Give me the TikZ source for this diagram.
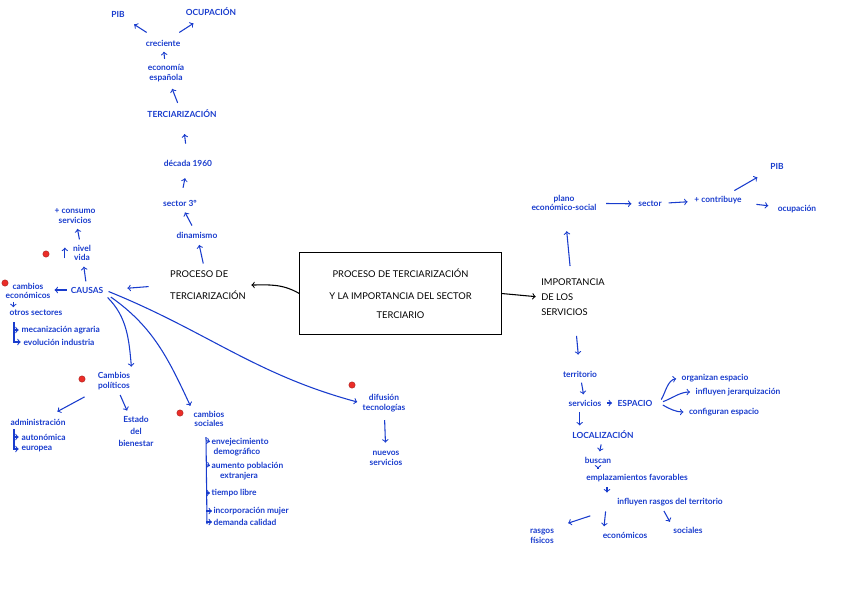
\documentclass[tikz,border=0pt]{standalone}
\usepackage{fontspec}
\setmainfont{Lato}
\definecolor{penblue}{RGB}{25,60,205}
\definecolor{penred}{RGB}{235,45,40}

\begin{document}
\begin{tikzpicture}[x=0.75pt,y=-0.75pt,
 bt/.style={text=penblue,font=\fontsize{6.3}{7.3}\selectfont\bfseries,align=center,inner sep=1pt},
 bk/.style={text=black,font=\fontsize{7}{8}\selectfont,align=left,inner sep=1pt},
 ar/.style={->,draw=penblue,line width=0.8pt,shorten >=#1,shorten <=#1},
 ar/.default=3pt,
 ln/.style={draw=penblue,line width=0.8pt},
 mk/.style={circle,fill=penred,draw=penred!70!black,line width=0.3pt,inner sep=1.7pt}]
\useasboundingbox (0,0) rectangle (848,600);
% tarjeta central
\node[draw,line width=0.8pt,minimum width=151pt,minimum height=62pt,align=center,font=\fontsize{7}{8}\selectfont] (box) at (400.5,293.5)
 {PROCESO DE TERCIARIZACIÓN\\[9pt]Y LA IMPORTANCIA DEL SECTOR\\[6pt]TERCIARIO\hspace{28pt}};
% columna superior
\node[bt] (pib) at (118,14) {PIB}; \node[bt] (ocu) at (211,12) {OCUPACIÓN};
\node[bt] (crec) at (163,43) {creciente};
\node[bt] (econ) at (166,73) {economía\\española};
\node[bt] (terc) at (182,114) {TERCIARIZACIÓN};
\node[bt] (dec) at (188,163) {década 1960};
\node[bt] (sec) at (180,203) {sector 3º};
\node[bt] (din) at (197,235) {dinamismo};
\node[bk] (proc) at (208,285) {PROCESO DE\\[9pt]TERCIARIZACIÓN};
\draw[ar=8pt] (crec) -- (pib); \draw[ar=8pt] (crec) -- (ocu); \draw[ar] (econ) -- (crec);
\draw[ar=4.5pt] (terc) -- (econ); \draw[ar=11pt] (dec) -- (terc); \draw[ar=8pt] (sec) -- (dec);
\draw[ar=4pt] (din) -- (sec); \draw[ar=4pt] (proc) -- (din);
\draw[->,line width=0.8pt,shorten >=3pt] (box.west) to[out=150,in=0] (proc.east);
% causas
\node[bt] (cons) at (75,216) {+ consumo\\servicios};
\node[bt] (niv) at (82,253) {nivel\\vida}; \node[mk] (m1) at (46,254) {};
\draw[->,ln] ([xshift=-5pt,yshift=-4pt]niv.west) -- ([xshift=-5pt,yshift=4pt]niv.west);
\node[bt] (caus) at (87,290) {CAUSAS};
\draw[ar] (niv) -- (cons); \draw[ar] (caus) -- (niv);
\draw[ar,shorten >=17pt,shorten <=15pt] (proc.west) -- (caus.east);
\node[bt] (ceco) at (28,291) {cambios\\económicos}; \node[mk] (m2) at (5,283) {};
\node[bt] (otros) at (36,313) {otros sectores};
\draw[ar=2pt] (caus.west) -- (caus.west -| ceco.east);
\draw[ar=1pt] ([xshift=-11pt]ceco.south) -- ([xshift=-11pt]ceco.south |- otros.north);
\coordinate (br1) at (14,322);
\node[bt,anchor=west] (meca) at (20,330) {mecanización agraria};
\node[bt,anchor=west] (evol) at (22,342) {evolución industria};
\draw[ar,shorten <=0pt,shorten >=1pt] (br1) |- (meca); \draw[ar,shorten <=0pt,shorten >=1pt] (br1) |- (evol);
% cambios politicos
\node[bt] (cpol) at (114,381) {Cambios\\políticos}; \node[mk] (m3) at (82,379) {};
\node[bt] (adm) at (38,422) {administración};
\node[bt,anchor=west] (auto) at (20,437) {autonómica};
\node[bt,anchor=west] (euro) at (20,449) {europea};
\coordinate (br2) at (14,429);
\draw[ar,shorten <=0pt,shorten >=1pt] (br2) |- (auto); \draw[ar,shorten <=0pt,shorten >=1pt] (br2) |- (euro);
\node[bt,font=\fontsize{6.3}{9}\selectfont\bfseries] (est) at (136,431) {Estado\\del\\bienestar};
\draw[ar,shorten >=9pt,shorten <=10pt] (cpol) -- (adm); \draw[ar] (cpol) -- (est);
% cambios sociales
\node[bt] (csoc) at (209,419) {cambios\\sociales}; \node[mk] (m4) at (180,413) {};
\coordinate (br3) at (206,437); \coordinate (br3e) at (207,524);
\node[bt,anchor=west,align=left] (env) at (210,447) {envejecimiento\\\ demográfico};
\node[bt,anchor=west,align=left] (aum) at (210,471) {aumento población\\\quad extranjera};
\node[bt,anchor=west] (tiem) at (210,493) {tiempo libre};
\node[bt,anchor=west] (inco) at (212,511) {incorporación mujer};
\node[bt,anchor=west] (dema) at (212,522) {demanda calidad};
\draw[ln] (br3) -- (br3e);
\foreach \it in {env,aum}{\draw[->,ln] (br3 |- \it.north) ++(0,4) -- ([yshift=4pt]\it.west);}
\foreach \it in {tiem,inco,dema}{\draw[->,ln] (br3 |- \it.west) -- (\it.west);}
% difusion
\node[bt] (dif) at (384,403) {difusión\\tecnologías}; \node[mk] (m5) at (352,385) {};
\node[bt] (nuev) at (386,458) {nuevos\\servicios};
\draw[ar=5pt] (dif) -- (nuev);
% flechas desde causas
\draw[ar] (caus.south east) to[out=-45,in=95] (cpol.north east);
\draw[ar] ([xshift=2pt]caus.south east) to[out=-35,in=115] (csoc.north west);
\draw[ar] (caus.east) to[out=-22,in=165] (dif.west);
% importancia de los servicios
\node[bk,font=\fontsize{7}{11.5}\selectfont] (imp) at (573,297) {IMPORTANCIA\\DE LOS\\SERVICIOS};
\draw[->,line width=0.8pt,shorten >=3pt] (box.east) -- (imp.west);
\node[bt] (plano) at (564,203) {plano\\económico-social};
\node[bt] (sect) at (650,204) {sector};
\node[bt] (contr) at (718,200) {+ contribuye};
\node[bt] (pib2) at (777,166) {PIB}; \node[bt] (ocu2) at (797,209) {ocupación};
\draw[ar,shorten >=14pt,shorten <=8pt] (imp) -- (plano);
\draw[ar,shorten >=4pt,shorten <=6pt] (plano) -- (sect); \draw[ar=4pt] (sect) -- (contr);
\draw[ar,shorten >=10pt,shorten <=6pt] (contr) -- (pib2); \draw[ar,shorten >=6pt,shorten <=10pt] (contr) -- (ocu2);
\node[bt] (terr) at (580,374) {territorio};
\node[bt] (serv) at (585,403) {servicios}; \node[bt] (esp) at (635,403) {ESPACIO};
\draw[ar,shorten >=11pt,shorten <=14pt] (imp) -- (terr); \draw[ar] (terr) -- (serv); \draw[ar] (serv) -- (esp);
\node[bt] (org) at (715,378) {organizan espacio};
\node[bt] (jer) at (738,392) {influyen jerarquización};
\node[bt] (conf) at (724,412) {configuran espacio};
\draw[ar] ([xshift=4pt]esp.east) to[out=60,in=190] (org.west);
\draw[ar] ([xshift=4pt]esp.east) to[out=20,in=180] (jer.west);
\draw[ar] ([xshift=4pt]esp.east) to[out=-30,in=180] (conf.west);
\node[bt] (loc) at (603,435) {LOCALIZACIÓN};
\node[bt] (busc) at (598,460) {buscan};
\node[bt] (empl) at (637,478) {emplazamientos favorables};
\node[bt] (infl) at (670,502) {influyen rasgos del territorio};
\draw[ar] ([xshift=-4pt]serv.south) -- ([xshift=-4pt]serv.south |- loc.north); \draw[ar] (loc) -- (busc);
\draw[ar] (busc) -- (busc |- empl.north);
\draw[ar] ([xshift=-22.5pt]empl.south) -- ([xshift=-22.5pt]empl.south |- infl.north);
\node[bt] (fis) at (542,536) {rasgos\\físicos};
\node[bt] (ecn) at (625,535) {económicos}; \node[bt] (soc) at (688,530) {sociales};
\draw[ar,shorten >=10pt,shorten <=20pt] (infl.south west) -- (fis.north east);
\draw[ar] ([xshift=-48pt]infl.south) -- ([xshift=-16pt]ecn.north);
\draw[ar] ([xshift=-6pt]infl.south) -- (soc.north west);
\end{tikzpicture}
\end{document}
